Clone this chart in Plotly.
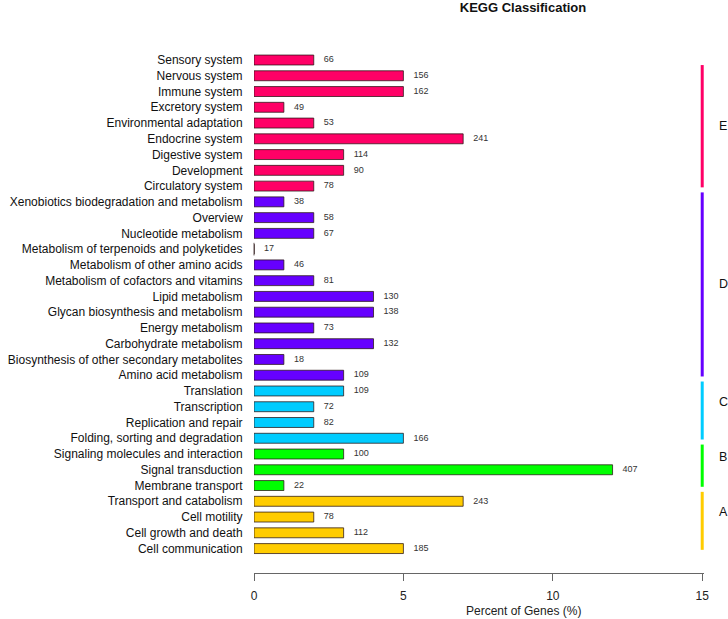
import plotly.graph_objects as go

# ---------------- data (top to bottom) ----------------
group_names = ["E", "D", "C", "B", "A"]
group_colors = ["#FF0066", "#6600FF", "#00CCFF", "#00FF00", "#FFCC00"]

cats_E = ["Sensory system", "Nervous system", "Immune system", "Excretory system",
          "Environmental adaptation", "Endocrine system", "Digestive system",
          "Development", "Circulatory system"]
pct_E = [2, 5, 5, 1, 2, 7, 3, 3, 2]
cnt_E = [66, 156, 162, 49, 53, 241, 114, 90, 78]

cats_D = ["Xenobiotics biodegradation and metabolism", "Overview", "Nucleotide metabolism",
          "Metabolism of terpenoids and polyketides", "Metabolism of other amino acids",
          "Metabolism of cofactors and vitamins", "Lipid metabolism",
          "Glycan biosynthesis and metabolism", "Energy metabolism",
          "Carbohydrate metabolism", "Biosynthesis of other secondary metabolites",
          "Amino acid metabolism"]
pct_D = [1, 2, 2, 0, 1, 2, 4, 4, 2, 4, 1, 3]
cnt_D = [38, 58, 67, 17, 46, 81, 130, 138, 73, 132, 18, 109]

cats_C = ["Translation", "Transcription", "Replication and repair",
          "Folding, sorting and degradation"]
pct_C = [3, 2, 2, 5]
cnt_C = [109, 72, 82, 166]

cats_B = ["Signaling molecules and interaction", "Signal transduction", "Membrane transport"]
pct_B = [3, 12, 1]
cnt_B = [100, 407, 22]

cats_A = ["Transport and catabolism", "Cell motility", "Cell growth and death",
          "Cell communication"]
pct_A = [7, 2, 3, 5]
cnt_A = [243, 78, 112, 185]

x_ticks = [0, 5, 10, 15]

# ---------------- assemble ----------------
group_cats = [cats_E, cats_D, cats_C, cats_B, cats_A]
group_pct = [pct_E, pct_D, pct_C, pct_B, pct_A]
group_cnt = [cnt_E, cnt_D, cnt_C, cnt_B, cnt_A]

categories, percent, counts, colors = [], [], [], []
for gc, gp, gn, col in zip(group_cats, group_pct, group_cnt, group_colors):
    categories += gc
    percent += gp
    counts += gn
    colors += [col] * len(gc)

n = len(categories)
FONT = "Arial, Liberation Sans, Helvetica, sans-serif"
y_range = [n + 0.55, -1.27]
x_range = [0, 15.06]
OUTLINE = "rgba(40,20,20,0.75)"
PAD = "\u00a0" * 4

fig = go.Figure()

fig.add_trace(go.Bar(
    orientation="h", x=percent, y=categories, width=0.63,
    marker=dict(color=colors, line=dict(color=OUTLINE, width=1)),
    hoverinfo="x+y", showlegend=False,
))

# zero-length bars drawn as a thin stroke at the axis origin
zero_idx = [i for i, v in enumerate(percent) if v == 0]
fig.add_trace(go.Scatter(
    x=[percent[i] for i in zero_idx], y=[categories[i] for i in zero_idx],
    mode="markers", marker=dict(symbol="line-ns", size=9,
                                line=dict(color=OUTLINE, width=1)),
    showlegend=False, hoverinfo="skip", cliponaxis=False,
))

# count labels
fig.add_trace(go.Scatter(
    x=percent, y=categories, mode="text", text=[PAD + str(c) for c in counts],
    textposition="middle right", textfont=dict(size=9, color="#333333", family=FONT),
    showlegend=False, hoverinfo="skip", cliponaxis=False,
))

# group bars and letters on an overlaid numeric axis
annotations = []
start = 0
for name, gc, col in zip(group_names, group_cats, group_colors):
    first, last = start, start + len(gc) - 1
    y0 = max(first - 0.6, 0.32)
    y1 = last + 0.08
    fig.add_trace(go.Scatter(
        x=[15, 15], y=[y0, y1], mode="lines", yaxis="y2",
        line=dict(color=col, width=3), showlegend=False, hoverinfo="skip",
    ))
    ymid = (y0 + y1) / 2 - (0.55 if len(gc) < 6 else 0)
    annotations.append(dict(
        text=name, xref="paper", yref="y2", x=(723 - 254) / 450, y=ymid,
        showarrow=False, xanchor="center", yanchor="middle",
        font=dict(size=12.5, color="#111111", family=FONT)))
    start += len(gc)

annotations.append(dict(
    text="Percent of Genes (%)", xref="paper", yref="paper",
    x=(523 - 254) / 450, y=(573 - 611) / 533, yanchor="middle",
    showarrow=False, font=dict(size=12, color="#222222")))

fig.update_layout(
    width=728, height=619,
    margin=dict(l=254, r=24, t=40, b=46, autoexpand=False),
    paper_bgcolor="white", plot_bgcolor="white",
    font=dict(family=FONT, color="#111111"),
    title=dict(text="<b>KEGG Classification</b>", x=523 / 728, xanchor="center",
               xref="container", yref="container", y=1 - 7 / 619, yanchor="middle",
               font=dict(size=13, color="#111111")),
    xaxis=dict(range=x_range, tickvals=x_ticks, showgrid=False, zeroline=False,
               showline=True, linecolor="#666666", linewidth=1,
               ticks="outside", ticklen=7, tickcolor="#666666",
               tickfont=dict(size=12, color="#222222"), ticklabelstandoff=5),
    yaxis=dict(type="category", categoryorder="array", categoryarray=categories,
               range=y_range, showgrid=False, zeroline=False, showline=False,
               ticks="outside", ticklen=8, tickcolor="rgba(0,0,0,0)",
               tickfont=dict(size=12, color="#111111")),
    yaxis2=dict(overlaying="y", range=y_range, visible=False, showgrid=False),
    annotations=annotations,
)

fig.write_html("out.html", config={"displayModeBar": False},
               post_script="document.body.style.margin='0';"
                           "document.body.style.overflow='hidden';")
